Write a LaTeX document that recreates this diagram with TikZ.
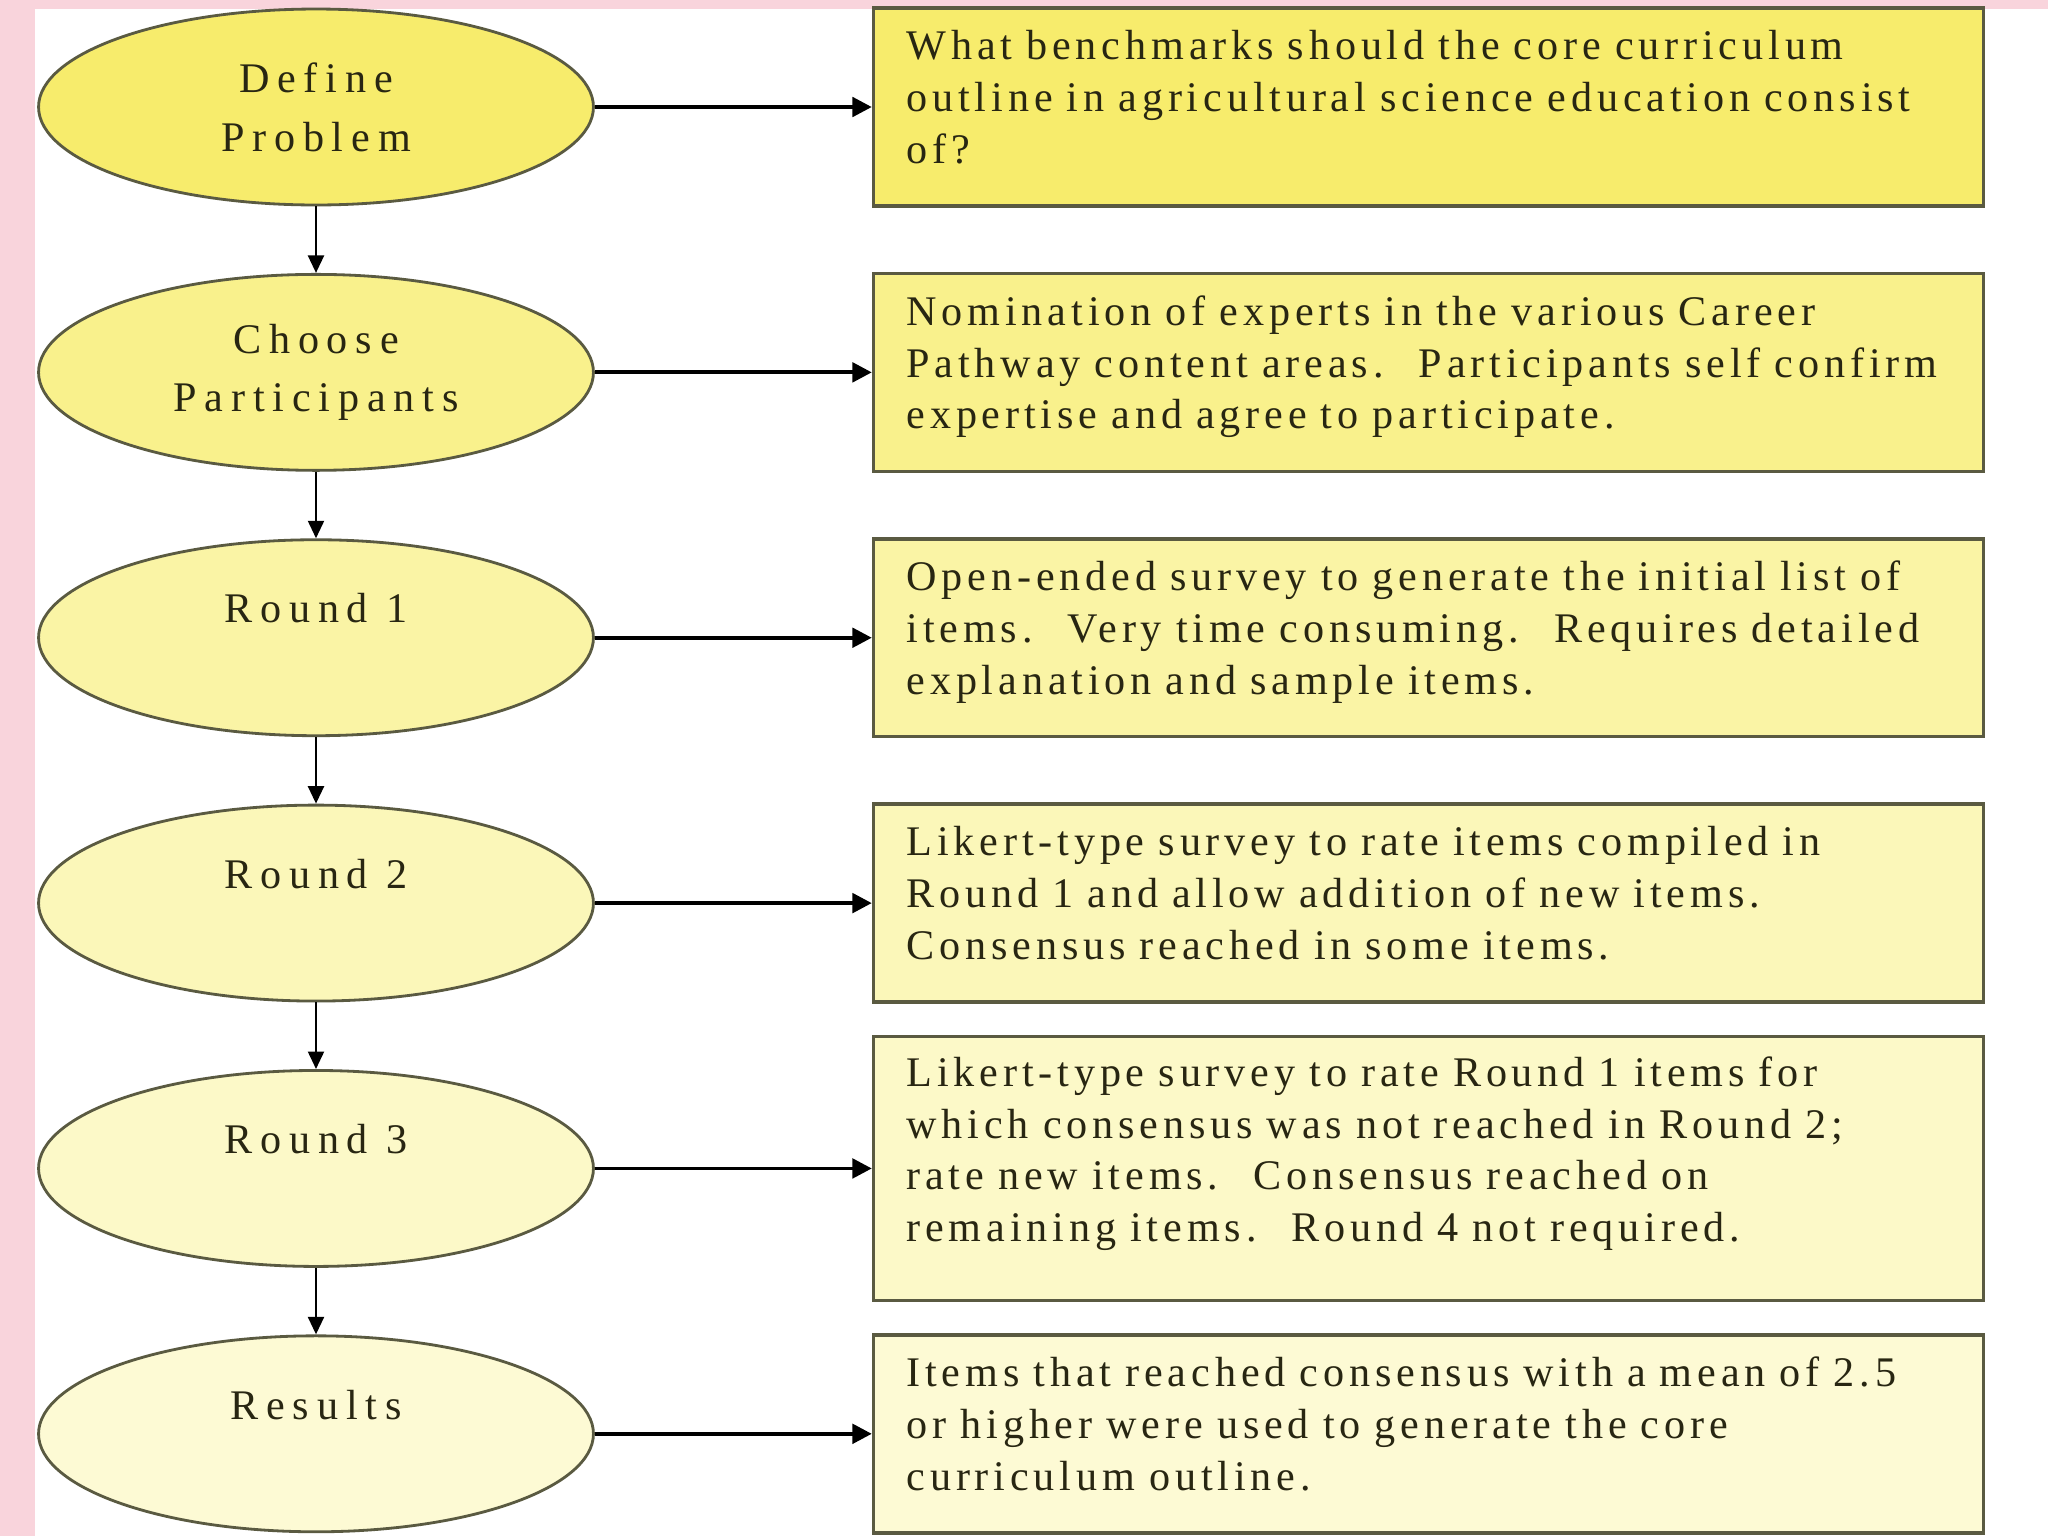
\documentclass[tikz,border=0pt]{standalone}
\usepackage{fontspec}
\setmainfont{Liberation Serif}
\newfontfamily\notefont[LetterSpace=11.5]{Liberation Serif}
\newfontfamily\ovalfont[LetterSpace=18.5]{Liberation Serif}
\usepackage{tikz}
\usetikzlibrary{arrows.meta, positioning, shapes.geometric}
\definecolor{pinkedge}{RGB}{249,212,220}
\definecolor{inkline}{RGB}{90,90,65}
\definecolor{textdark}{RGB}{40,38,18}
\definecolor{shadeA}{RGB}{247,236,108}
\definecolor{shadeB}{RGB}{249,241,140}
\definecolor{shadeC}{RGB}{250,244,165}
\definecolor{shadeD}{RGB}{251,247,185}
\definecolor{shadeE}{RGB}{252,249,200}
\definecolor{shadeF}{RGB}{253,250,212}
% a little empty room under the last line lifts the note text
\newcommand{\liftup}[1][-18pt]{\\[#1]\mbox{}}

\begin{document}
\begin{tikzpicture}[x=0.02cm, y=-0.02cm,
  oval/.style={ellipse, draw=inkline, line width=1.6pt, fill=#1, minimum width=11.1cm,
    minimum height=3.92cm, inner sep=0pt, align=center, text=textdark,
    font=\ovalfont\fontsize{24}{33.5}\selectfont},
  note/.style={rectangle, draw=inkline, line width=2pt, fill=#1, text width=20.88cm,
    inner xsep=0.66cm, inner ysep=0pt, minimum height=3.96cm, align=left, text=textdark,
    font=\notefont\fontsize{24}{29.5}\selectfont},
  hlink/.style={-{Triangle[length=11pt,width=11pt]}, line width=2.2pt, black},
  vlink/.style={-{Triangle[length=10pt,width=9pt]}, line width=1.6pt, black}]
\fill[pinkedge] (0,0) rectangle (2048,1536);
\fill[white] (35,9) rectangle (2048,1536);
\useasboundingbox (0,0) rectangle (2048,1536);

% steps on the left
\node[oval=shadeA] (define) at (316,107) {Define\\Problem};
\node[oval=shadeB, below=1.332cm of define] (choose) {Choose\\Participants};
\node[oval=shadeC, below=1.332cm of choose] (round1) {Round 1\\~};
\node[oval=shadeD, below=1.332cm of round1] (round2) {Round 2\\~};
\node[oval=shadeE, below=1.332cm of round2] (round3) {Round 3\\~};
\node[oval=shadeF, below=1.332cm of round3] (results) {Results\\~};

% notes on the right
\node[note=shadeA, right=5.54cm of define] (defnote)
{What benchmarks should the core curriculum\\outline in agricultural science education consist\\of?\liftup};
\node[note=shadeB, right=5.54cm of choose] (choosenote)
{Nomination of experts in the various Career\\Pathway content areas.~ Participants self confirm\\expertise and agree to participate.\liftup};
\node[note=shadeC, right=5.54cm of round1] (r1note)
{Open-ended survey to generate the initial list of\\items.~ Very time consuming.~ Requires detailed\\explanation and sample items.\liftup};
\node[note=shadeD, right=5.54cm of round2] (r2note)
{Likert-type survey to rate items compiled in\\Round 1 and allow addition of new items.\\Consensus reached in some items.\liftup};
\node[note=shadeE, right=5.54cm of round3, minimum height=5.28cm] (r3note)
{Likert-type survey to rate Round 1 items for\\which consensus was not reached in Round 2;\\rate new items.~ Consensus reached on\\remaining items.~ Round 4 not required.\liftup[-7.5pt]};
\node[note=shadeF, right=5.54cm of results] (resnote)
{Items that reached consensus with a mean of 2.5\\or higher were used to generate the core\\curriculum outline.\liftup};

\draw[vlink] (define) -- (choose);
\draw[vlink] (choose) -- (round1);
\draw[vlink] (round1) -- (round2);
\draw[vlink] (round2) -- (round3);
\draw[vlink] (round3) -- (results);

\draw[hlink] (define) -- (defnote);
\draw[hlink] (choose) -- (choosenote);
\draw[hlink] (round1) -- (r1note);
\draw[hlink] (round2) -- (r2note);
\draw[hlink] (round3) -- (r3note);
\draw[hlink] (results) -- (resnote);
\end{tikzpicture}
\end{document}
